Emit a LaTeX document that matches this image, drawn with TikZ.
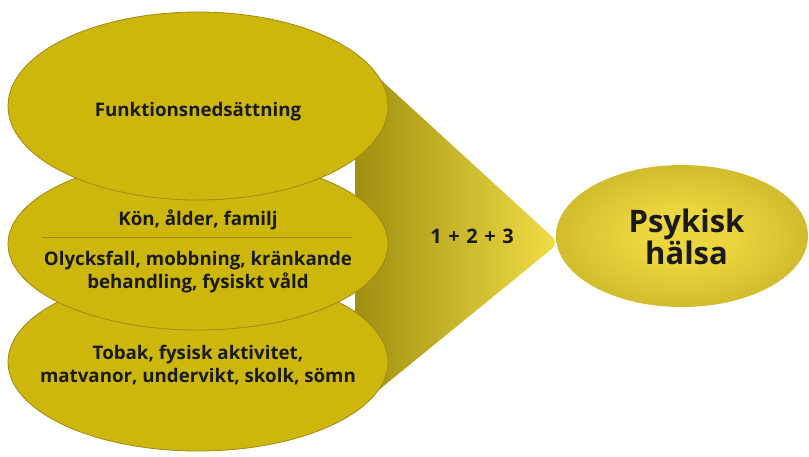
\documentclass[tikz,border=0pt]{standalone}
\usepackage{fontspec}
\setmainfont{Open Sans}
\usetikzlibrary{shapes.geometric}

\definecolor{discfill}{RGB}{206,183,12}
\definecolor{discedge}{RGB}{158,138,18}
\definecolor{wedgedark}{RGB}{160,143,16}
\definecolor{wedgelight}{RGB}{242,222,70}
\definecolor{halsalight}{RGB}{236,214,64}
\definecolor{halsadark}{RGB}{166,148,14}
\definecolor{ink}{RGB}{26,26,26}

% radial shading for the outcome ellipse: bright core, olive rim
\pgfdeclareradialshading{halsashade}{\pgfpoint{0bp}{0bp}}{%
  color(0bp)=(halsalight); color(9bp)=(halsalight);
  color(50bp)=(halsadark); color(75bp)=(halsadark)}

\newcommand{\plusgap}{\hspace{0.33em}}

\tikzset{
  disc/.style={ellipse, draw=discedge, line width=0.8pt, fill=discfill,
    minimum width=380pt, inner sep=0pt},
  label/.style={font=\fontsize{18.7}{23.5}\selectfont\bfseries, text=ink,
    align=center, anchor=base, inner sep=0pt},
  wedge/.style={left color=wedgedark, right color=wedgelight,
    rounded corners=9pt},
  outcome/.style={ellipse, shading=halsashade, minimum width=252pt,
    minimum height=142pt, inner sep=0pt}
}

\begin{document}
\begin{tikzpicture}[x=1pt,y=-1pt]
\useasboundingbox (0,0) rectangle (809,456);

% combining wedge behind the three discs
\coordinate (wa) at (355,78);
\coordinate (wb) at (368,68);
\coordinate (wtip) at (559,243);
\coordinate (wc) at (364,402);
\coordinate (wd) at (355,396);
\path[wedge] (wa) -- (wb) -- (wtip) -- (wc) -- (wd) -- cycle;

% three factor discs, bottom first
\node[disc, minimum height=178pt] (d3) at (198,362) {};
\node[disc, minimum height=172pt] (d2) at (198,244) {};
\node[disc, minimum height=188pt] (d1) at (198,106) {};

% separator inside the middle disc
\coordinate (sepL) at (42,237);
\coordinate (sepR) at (352,237);
\draw[discedge, line width=0.7pt] (sepL) -- (sepR);

% multi-line labels sit on the baseline of their last line
\node[label] (t1) at (198,116.5) {Funktionsnedsättning};
\node[label] (t2a) at (198,225) {Kön, ålder, familj};
\node[label] (t2b) at (198,288.5) {Olycksfall, mobbning, kränkande\\behandling, fysiskt våld};
\node[label] (t3) at (198,382.5) {Tobak, fysisk aktivitet,\\matvanor, undervikt, skolk, sömn};

\node[label, font=\fontsize{20}{24}\selectfont\bfseries] (sum) at (472,243.5)
  {1\plusgap+\plusgap2\plusgap+\plusgap3};

% outcome
\node[outcome] (ph) at (682,236) {};
\node[label, font=\fontsize{31}{32.5}\selectfont\bfseries] (pht) at (686.5,264.5) {Psykisk\\hälsa};
\end{tikzpicture}
\end{document}
